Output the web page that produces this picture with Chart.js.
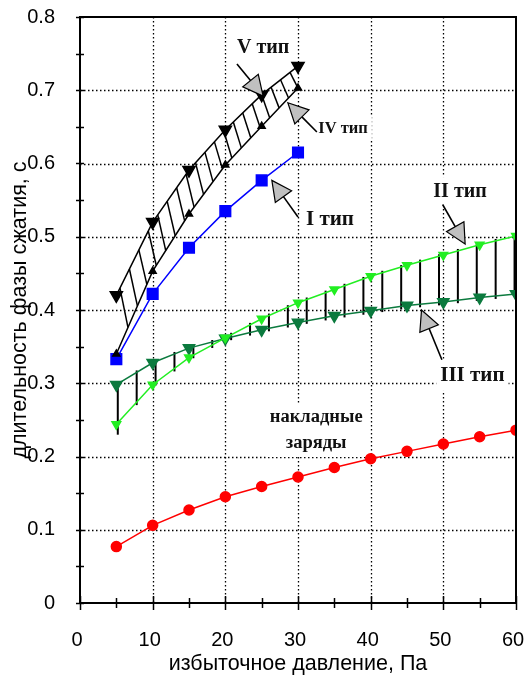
<!DOCTYPE html>
<html>
<head>
<meta charset="utf-8">
<script src="https://cdn.jsdelivr.net/npm/chart.js@4.4.1/dist/chart.umd.min.js"></script>
<style>
    html, body { margin: 0; padding: 0; background: #fff; }
</style>
</head>
<body>
<canvas id="chart" width="526" height="680"></canvas>
<script>
// ---- data ----
const pressureShort = [5, 10, 15, 20, 25, 30];
const pressureLong = [5, 10, 15, 20, 25, 30, 35, 40, 45, 50, 55, 60];

const type5 = [0.420, 0.520, 0.591, 0.646, 0.694, 0.733];
const type4 = [0.340, 0.453, 0.531, 0.598, 0.651, 0.703];
const type1 = [0.333, 0.422, 0.485, 0.535, 0.577, 0.615];
const type2 = [0.244, 0.298, 0.335, 0.362, 0.388, 0.410, 0.428, 0.446, 0.461, 0.475, 0.489, 0.501];
const type3 = [0.298, 0.328, 0.348, 0.361, 0.373, 0.383, 0.392, 0.399, 0.406, 0.411, 0.417, 0.422];
const charges = [0.077, 0.106, 0.127, 0.145, 0.159, 0.172, 0.185, 0.197, 0.207, 0.217, 0.227, 0.236];

const xTicks = [0, 10, 20, 30, 40, 50, 60];
const yTicks = [0, 0.1, 0.2, 0.3, 0.4, 0.5, 0.6, 0.7, 0.8];

const points = (xs, ys) => xs.map((x, i) => ({ x: x, y: ys[i] }));

function interp(xs, ys, v) {
    for (let i = 0; i < xs.length - 1; i++) {
        if (v >= xs[i] && v <= xs[i + 1]) {
            const f = (v - xs[i]) / (xs[i + 1] - xs[i]);
            return ys[i] + f * (ys[i + 1] - ys[i]);
        }
    }
    return v < xs[0] ? ys[0] : ys[ys.length - 1];
}

// labels and callout arrows, in axis units
const notes = [
    { lines: ["V тип"], x: 25.2, y: 0.758, size: 20 },
    { lines: ["IV тип"], x: 36.2, y: 0.648, size: 16.5 },
    { lines: ["I тип"], x: 34.4, y: 0.524, size: 21 },
    { lines: ["II тип"], x: 52.3, y: 0.561, size: 20 },
    { lines: ["III тип"], x: 54.0, y: 0.311, size: 21 },
    { lines: ["накладные", "заряды"], x: 32.5, y: 0.236, size: 18.5 }
];

const arrows = [
    { from: [21.6, 0.736], to: [25.2, 0.692] },
    { from: [32.6, 0.643], to: [28.6, 0.683] },
    { from: [30.0, 0.527], to: [26.4, 0.577] },
    { from: [49.9, 0.544], to: [53.0, 0.490] },
    { from: [49.8, 0.332], to: [47.0, 0.400] }
];

function seg(ctx, x1, y1, x2, y2) {
    ctx.beginPath();
    ctx.moveTo(x1, y1);
    ctx.lineTo(x2, y2);
    ctx.stroke();
}

const decor = {
    id: "decor",
    beforeDatasetsDraw(chart) {
        const { ctx, chartArea: a, scales: { x, y } } = chart;
        ctx.save();

        // dotted grid
        ctx.strokeStyle = "#000";
        ctx.lineWidth = 1.3;
        ctx.setLineDash([1.5, 2.5]);
        xTicks.forEach(v => {
            if (v > 0 && v < 60) {
                const px = Math.round(x.getPixelForValue(v)) + 0.5;
                seg(ctx, px, a.top, px, a.bottom);
            }
        });
        yTicks.forEach(v => {
            if (v > 0 && v < 0.8) {
                const py = Math.round(y.getPixelForValue(v)) + 0.5;
                seg(ctx, a.left, py, a.right, py);
            }
        });
        ctx.setLineDash([]);

        // labels on white boxes
        notes.forEach(n => {
            ctx.font = "bold " + n.size + "px 'Liberation Serif', 'Times New Roman', serif";
            ctx.textAlign = "center";
            ctx.textBaseline = "middle";
            const cx = x.getPixelForValue(n.x);
            const cy = y.getPixelForValue(n.y);
            const lh = n.size * 1.4;
            const w = Math.max(...n.lines.map(t => ctx.measureText(t).width)) + 8;
            const h = lh * n.lines.length + 2;
            ctx.fillStyle = "#fff";
            ctx.fillRect(cx - w / 2, cy - h / 2, w, h);
            ctx.fillStyle = "#111";
            n.lines.forEach((t, i) => {
                ctx.fillText(t, cx, cy - (lh * (n.lines.length - 1)) / 2 + i * lh);
            });
        });

        // hatching between V and IV
        ctx.strokeStyle = "#000";
        ctx.lineWidth = 1.5;
        for (let t = 5.5; t <= 29.2; t += 1.3) {
            const b = Math.min(t + 1.1, 30);
            seg(ctx,
                x.getPixelForValue(t), y.getPixelForValue(interp(pressureShort, type5, t)),
                x.getPixelForValue(b), y.getPixelForValue(interp(pressureShort, type4, b)));
        }

        // vertical hatching between II and III
        ctx.lineWidth = 2;
        for (let t = 5.2; t <= 60; t += 2.6) {
            const px = x.getPixelForValue(t);
            const y2 = y.getPixelForValue(interp(pressureLong, type2, t));
            const y3 = y.getPixelForValue(interp(pressureLong, type3, t));
            const extra = t < 6 ? 12 : 3;
            seg(ctx, px, Math.min(y2, y3) - 2, px, Math.max(y2, y3) + extra);
        }
        ctx.restore();
    },
    afterDatasetsDraw(chart) {
        const { ctx, chartArea: a, scales: { x, y } } = chart;
        ctx.save();

        // callout arrows
        arrows.forEach(ar => {
            const x1 = x.getPixelForValue(ar.from[0]), y1 = y.getPixelForValue(ar.from[1]);
            const x2 = x.getPixelForValue(ar.to[0]), y2 = y.getPixelForValue(ar.to[1]);
            const len = Math.hypot(x2 - x1, y2 - y1);
            const ux = (x2 - x1) / len, uy = (y2 - y1) / len;
            const hl = 20, hw = 10;
            const bx = x2 - ux * hl, by = y2 - uy * hl;
            ctx.strokeStyle = "#000";
            ctx.lineWidth = 1.6;
            seg(ctx, x1, y1, bx, by);
            ctx.beginPath();
            ctx.moveTo(x2, y2);
            ctx.lineTo(bx - uy * hw, by + ux * hw);
            ctx.lineTo(bx + uy * hw, by - ux * hw);
            ctx.closePath();
            ctx.fillStyle = "#c0c0c0";
            ctx.fill();
            ctx.lineWidth = 1.2;
            ctx.stroke();
        });

        // frame
        ctx.strokeStyle = "#000";
        ctx.lineWidth = 2;
        ctx.strokeRect(a.left, a.top, a.right - a.left, a.bottom - a.top);

        // ticks crossing the axes
        ctx.lineWidth = 1.5;
        for (let v = 0; v <= 60; v += 5) {
            const px = Math.round(x.getPixelForValue(v)) + 0.5;
            const len = v % 10 === 0 ? 7 : 5;
            seg(ctx, px, a.bottom - len, px, a.bottom + len);
        }
        for (let v = 0; v <= 16; v++) {
            const py = Math.round(y.getPixelForValue(v * 0.05)) + 0.5;
            seg(ctx, a.left - 4, py, a.left + 4, py);
        }
        ctx.restore();
    }
};

const axisFont = { family: "'Liberation Sans', Arial, sans-serif", size: 20 };
const titleFont = { family: "'Liberation Sans', Arial, sans-serif", size: 21.5 };

new Chart(document.getElementById("chart"), {
    type: "line",
    data: {
        datasets: [
            {
                label: "V тип",
                data: points(pressureShort, type5),
                borderColor: "#000",
                backgroundColor: "#000",
                borderWidth: 1.5,
                pointStyle: "triangle",
                pointRotation: 180,
                pointRadius: 7
            },
            {
                label: "IV тип",
                data: points(pressureShort, type4),
                borderColor: "#000",
                backgroundColor: "#000",
                borderWidth: 1.5,
                pointStyle: "triangle",
                pointRadius: 4
            },
            {
                label: "I тип",
                data: points(pressureShort, type1),
                borderColor: "#0000ff",
                backgroundColor: "#0000ff",
                borderWidth: 1.5,
                pointStyle: "rect",
                pointRadius: 7.5
            },
            {
                label: "II тип",
                data: points(pressureLong, type2),
                borderColor: "#22ee22",
                backgroundColor: "#22ee22",
                borderWidth: 1.5,
                pointStyle: "triangle",
                pointRotation: 180,
                pointRadius: 5
            },
            {
                label: "III тип",
                data: points(pressureLong, type3),
                borderColor: "#0b7a3e",
                backgroundColor: "#0b7a3e",
                borderWidth: 1.5,
                pointStyle: "triangle",
                pointRotation: 180,
                pointRadius: 6.5
            },
            {
                label: "накладные заряды",
                data: points(pressureLong, charges),
                borderColor: "#ff0000",
                backgroundColor: "#ff0000",
                borderWidth: 1.5,
                pointStyle: "circle",
                pointRadius: 5
            }
        ]
    },
    options: {
        responsive: false,
        animation: false,
        events: [],
        layout: { padding: { top: 17, right: 10, left: 0, bottom: 0 } },
        plugins: {
            legend: { display: false },
            tooltip: { enabled: false }
        },
        elements: {
            line: { tension: 0 },
            point: { borderWidth: 0 }
        },
        scales: {
            x: {
                type: "linear",
                min: 0,
                max: 60,
                afterFit: s => { s.height = 77; s.paddingLeft = 0; s.paddingRight = 0; },
                afterBuildTicks: s => { s.ticks = xTicks.map(v => ({ value: v })); },
                ticks: { font: axisFont, color: "#000", padding: 17, maxRotation: 0, labelOffset: -3 },
                grid: { display: false },
                border: { display: false },
                title: { display: true, text: "избыточное давление, Па", font: titleFont, color: "#000", padding: { top: 0, bottom: 3 } }
            },
            y: {
                min: 0,
                max: 0.8,
                afterFit: s => { s.width = 80; s.paddingTop = 0; s.paddingBottom = 0; },
                afterBuildTicks: s => { s.ticks = yTicks.map(v => ({ value: v })); },
                ticks: {
                    font: axisFont,
                    color: "#000",
                    padding: 17,
                    callback: v => v === 0 ? "0" : v.toFixed(1)
                },
                grid: { display: false },
                border: { display: false },
                title: { display: true, text: "длительность фазы сжатия, с", font: titleFont, color: "#000", padding: { top: 7, bottom: 0 } }
            }
        }
    },
    plugins: [decor]
});
</script>
</body>
</html>
